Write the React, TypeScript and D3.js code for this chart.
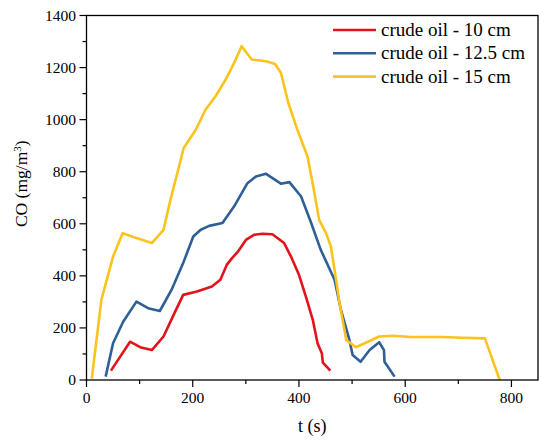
import React, { useEffect, useRef } from 'react';
import * as d3 from 'd3';

// crude oil - 10 cm
const t10 = [46, 82, 101, 123, 145, 164, 182, 208, 236, 252, 264, 274, 285, 300, 316, 331, 350, 372, 385, 400, 413, 426, 435, 443, 445, 459];
const co10 = [36, 147, 126, 115, 167, 250, 327, 340, 359, 385, 442, 468, 493, 538, 558, 562, 560, 526, 474, 404, 320, 231, 141, 103, 67, 36];

// crude oil - 12.5 cm
const t125 = [36, 50, 69, 94, 116, 138, 160, 182, 201, 215, 231, 256, 278, 303, 319, 338, 366, 382, 404, 423, 441, 467, 479, 495, 501, 516, 533, 551, 560, 561, 580];
const co125 = [13, 141, 224, 301, 276, 265, 346, 449, 551, 577, 592, 603, 667, 756, 782, 792, 754, 760, 705, 603, 500, 385, 269, 154, 96, 70, 115, 145, 115, 70, 13];

// crude oil - 15 cm
const t15 = [10, 28, 50, 68, 94, 123, 145, 158, 171, 183, 206, 224, 243, 262, 278, 292, 311, 338, 355, 366, 380, 397, 416, 428, 438, 451, 460, 469, 476, 489, 507, 530, 551, 577, 611, 668, 706, 750, 778];
const co15 = [5, 308, 474, 564, 545, 526, 577, 692, 795, 891, 962, 1038, 1090, 1154, 1218, 1282, 1231, 1224, 1214, 1180, 1064, 961, 859, 731, 615, 564, 513, 397, 300, 154, 126, 147, 167, 170, 165, 165, 162, 160, 0];

const seriesNames = ['crude oil - 10 cm', 'crude oil - 12.5 cm', 'crude oil - 15 cm'];
const seriesColors = ['#e3131b', '#2f5f97', '#fbc31c'];

const xTicks = [0, 200, 400, 600, 800];
const yTicks = [0, 200, 400, 600, 800, 1000, 1200, 1400];

const W = 550;
const H = 443;

export default function App() {
  const svgRef = useRef<SVGSVGElement>(null);

  useEffect(() => {
    if (!svgRef.current) return;
    const svg = d3.select(svgRef.current);
    svg.selectAll('*').remove();

    const left = 86.5, right = 538, top = 15.5, bottom = 380;
    const font = '"Liberation Serif", "Times New Roman", serif';

    const x = d3.scaleLinear().domain([0, 850]).range([left, right]);
    const y = d3.scaleLinear().domain([0, 1400]).range([bottom, top]);

    const series = [
      { t: t10, v: co10 },
      { t: t125, v: co125 },
      { t: t15, v: co15 },
    ];

    const line = d3.line<[number, number]>()
      .x(d => x(d[0]))
      .y(d => y(d[1]));

    // data lines
    series.forEach((s, i) => {
      const pts = s.t.map((t, j) => [t, s.v[j]] as [number, number]);
      svg.append('path')
        .datum(pts)
        .attr('fill', 'none')
        .attr('stroke', seriesColors[i])
        .attr('stroke-width', 2.6)
        .attr('stroke-linejoin', 'round')
        .attr('d', line);
    });

    // frame
    svg.append('rect')
      .attr('x', left).attr('y', top)
      .attr('width', right - left).attr('height', bottom - top)
      .attr('fill', 'none').attr('stroke', '#000').attr('stroke-width', 1.3);

    // x axis ticks
    const gx = svg.append('g');
    d3.range(0, 851, 100).forEach(v => {
      const major = v % 200 === 0;
      gx.append('line')
        .attr('x1', x(v)).attr('x2', x(v))
        .attr('y1', bottom).attr('y2', bottom + (major ? 7 : 4))
        .attr('stroke', '#000').attr('stroke-width', 1.2);
    });
    xTicks.forEach(v => {
      gx.append('text')
        .attr('x', x(v)).attr('y', 403)
        .attr('text-anchor', 'middle')
        .style('font-family', font).style('font-size', '15.5px')
        .text(v);
    });

    // y axis ticks
    const gy = svg.append('g');
    d3.range(0, 1401, 100).forEach(v => {
      const major = v % 200 === 0;
      gy.append('line')
        .attr('x1', left).attr('x2', left - (major ? 7 : 4))
        .attr('y1', y(v)).attr('y2', y(v))
        .attr('stroke', '#000').attr('stroke-width', 1.2);
    });
    yTicks.forEach(v => {
      gy.append('text')
        .attr('x', 76).attr('y', y(v) + 5)
        .attr('text-anchor', 'end')
        .style('font-family', font).style('font-size', '15.5px')
        .text(v);
    });

    // axis titles
    svg.append('text')
      .attr('x', (left + right) / 2).attr('y', 432)
      .attr('text-anchor', 'middle')
      .style('font-family', font).style('font-size', '18px')
      .text('t (s)');

    const yl = svg.append('text')
      .attr('transform', `translate(27,${(top + bottom) / 2 - 14}) rotate(-90)`)
      .attr('text-anchor', 'middle')
      .style('font-family', font).style('font-size', '17.5px');
    yl.append('tspan').text('CO (mg/m');
    yl.append('tspan').attr('dy', -6).style('font-size', '11px').text('3');
    yl.append('tspan').attr('dy', 6).text(')');

    // legend
    const lg = svg.append('g');
    seriesNames.forEach((name, i) => {
      const ly = 30 + i * 23.3;
      lg.append('line')
        .attr('x1', 333).attr('x2', 376)
        .attr('y1', ly).attr('y2', ly)
        .attr('stroke', seriesColors[i]).attr('stroke-width', 2.6);
      lg.append('text')
        .attr('x', 381).attr('y', ly + 6)
        .style('font-family', font).style('font-size', '19px')
        .text(name);
    });
  }, []);

  return (
    <svg
      ref={svgRef}
      width={W}
      height={H}
      style={{ position: 'absolute', left: 0, top: 0, background: '#fff' }}
    />
  );
}
